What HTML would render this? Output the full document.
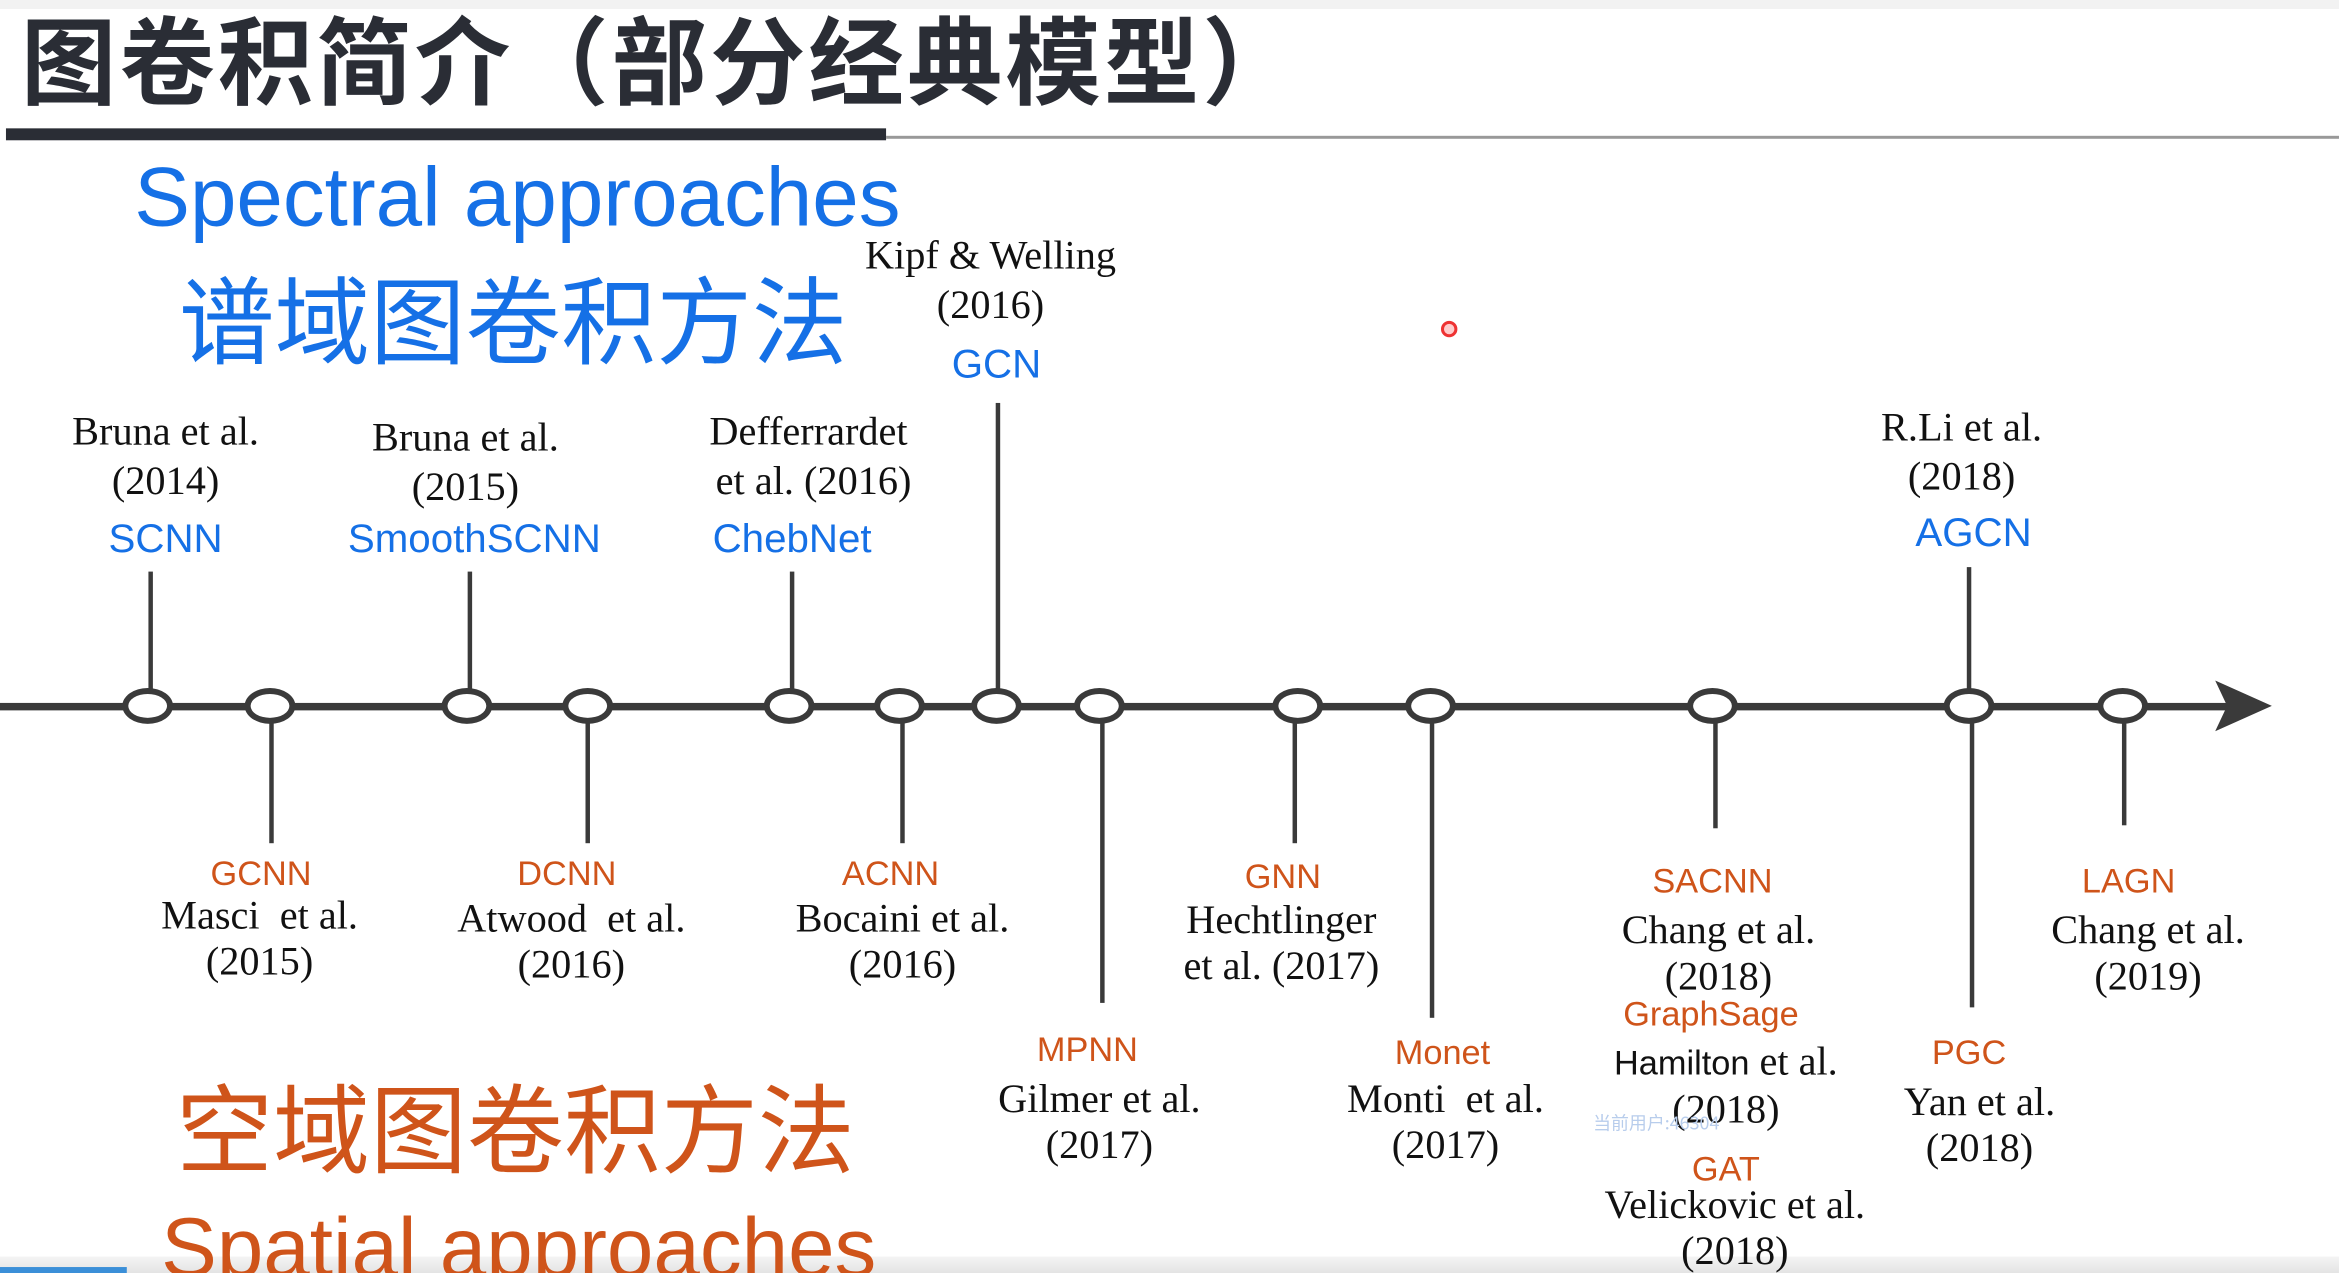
<!DOCTYPE html>
<html><head><meta charset="utf-8"><style>
html,body{margin:0;padding:0;background:#fff;overflow:hidden;width:2339px;height:1273px}
#s{position:absolute;left:0;top:0;width:1568px;height:853px;transform:scale(1.4917,1.4924);transform-origin:0 0;background:#fff;overflow:hidden}
.a{position:absolute;white-space:nowrap}
.c{position:absolute;white-space:nowrap;transform:translateX(-50%);text-align:center}
.sf{font-family:"Liberation Serif",serif;font-size:27px;color:#111;line-height:33px}
.bl{font-family:"Liberation Sans","Noto Sans CJK SC",sans-serif;font-size:27px;color:#1570e6}
.or{font-family:"Liberation Sans","Noto Sans CJK SC",sans-serif;font-size:23px;color:#cf541a}
.node{position:absolute;width:26px;height:16px;border:4px solid #3a3a3a;border-radius:50%;background:#fff;transform:translate(-50%,-50%)}
.v{position:absolute;width:3px;background:#3a3a3a;transform:translateX(-50%)}
</style></head><body><div id="s">
<div class="a" style="left:0;top:0;width:1568px;height:6px;background:#f2f2f2"></div>
<div class="a" style="left:0;top:842px;width:1568px;height:11px;background:linear-gradient(#f4f4f4,#e4e4e4)"></div>
<div class="a" style="left:0;top:849px;width:85px;height:4px;background:#3b8fd8"></div>
<div class="a" style="left:14px;top:-2px;font-family:'Liberation Sans','Noto Sans CJK SC',sans-serif;font-weight:bold;font-size:64px;color:#2a2d35;line-height:90px;letter-spacing:2px">图卷积简介（部分经典模型）</div>
<div class="a" style="left:4px;top:86px;width:590px;height:8px;background:#2a2d35"></div>
<div class="a" style="left:594px;top:91px;width:974px;height:2px;background:#999"></div>
<div class="a" style="left:90px;top:96px;font-family:'Liberation Sans',sans-serif;font-size:56px;color:#1570e6;line-height:72px">Spectral approaches</div>
<div class="a" style="left:120px;top:170px;font-family:'Noto Sans CJK SC',sans-serif;font-size:64px;color:#1570e6;line-height:84px">谱域图卷积方法</div>
<div class="a" style="left:118px;top:710px;font-family:'Noto Sans CJK SC',sans-serif;font-size:65px;color:#cf541a;line-height:86px">空域图卷积方法</div>
<div class="a" style="left:108px;top:800px;font-family:'Liberation Sans',sans-serif;font-size:56px;color:#cf541a;line-height:72px">Spatial approaches</div>
<div class="a" style="left:966px;top:215px;width:7px;height:7px;border-radius:50%;border:2px solid #e33;background:#fcc"></div>

<div class="a" style="left:0;top:471px;width:1500px;height:5px;background:#3a3a3a"></div>
<svg class="a" style="left:1485px;top:456px" width="40" height="36"><polygon points="0,0 38,17 0,34 8,17" fill="#3a3a3a"/></svg>

<div class="v" style="left:101px;top:383px;height:85px"></div>
<div class="v" style="left:315px;top:383px;height:85px"></div>
<div class="v" style="left:531px;top:383px;height:85px"></div>
<div class="v" style="left:669px;top:270px;height:198px"></div>
<div class="v" style="left:1320px;top:380px;height:88px"></div>
<div class="v" style="left:182px;top:478px;height:87px"></div>
<div class="v" style="left:394px;top:478px;height:87px"></div>
<div class="v" style="left:605px;top:478px;height:87px"></div>
<div class="v" style="left:739px;top:478px;height:194px"></div>
<div class="v" style="left:868px;top:478px;height:87px"></div>
<div class="v" style="left:960px;top:478px;height:204px"></div>
<div class="v" style="left:1150px;top:478px;height:77px"></div>
<div class="v" style="left:1322px;top:478px;height:197px"></div>
<div class="v" style="left:1424px;top:478px;height:75px"></div>

<div class="node" style="left:99px;top:473px"></div>
<div class="node" style="left:181px;top:473px"></div>
<div class="node" style="left:313px;top:473px"></div>
<div class="node" style="left:394px;top:473px"></div>
<div class="node" style="left:529px;top:473px"></div>
<div class="node" style="left:603px;top:473px"></div>
<div class="node" style="left:668px;top:473px"></div>
<div class="node" style="left:737px;top:473px"></div>
<div class="node" style="left:870px;top:473px"></div>
<div class="node" style="left:959px;top:473px"></div>
<div class="node" style="left:1148px;top:473px"></div>
<div class="node" style="left:1320px;top:473px"></div>
<div class="node" style="left:1423px;top:473px"></div>

<div class="c sf" style="left:111px;top:273px">Bruna et al.<br>(2014)</div>
<div class="c bl" style="left:111px;top:346px">SCNN</div>
<div class="c sf" style="left:312px;top:277px">Bruna et al.<br>(2015)</div>
<div class="c bl" style="left:318px;top:346px">SmoothSCNN</div>
<div class="c sf" style="left:542px;top:273px">Defferrardet<br>&nbsp;et al. (2016)</div>
<div class="c bl" style="left:531px;top:346px">ChebNet</div>
<div class="c sf" style="left:664px;top:155px">Kipf &amp; Welling<br>(2016)</div>
<div class="c bl" style="left:668px;top:229px">GCN</div>
<div class="c sf" style="left:1315px;top:270px">R.Li et al.<br>(2018)</div>
<div class="c bl" style="left:1323px;top:342px">AGCN</div>

<div class="c or" style="left:175px;top:572px">GCNN</div>
<div class="c sf" style="left:174px;top:598px;line-height:31px">Masci&nbsp; et al.<br>(2015)</div>
<div class="c or" style="left:380px;top:572px">DCNN</div>
<div class="c sf" style="left:383px;top:600px;line-height:31px">Atwood&nbsp; et al.<br>(2016)</div>
<div class="c or" style="left:597px;top:572px">ACNN</div>
<div class="c sf" style="left:605px;top:600px;line-height:31px">Bocaini et al.<br>(2016)</div>
<div class="c or" style="left:860px;top:574px">GNN</div>
<div class="c sf" style="left:859px;top:601px;line-height:31px">Hechtlinger<br>et al. (2017)</div>
<div class="c or" style="left:729px;top:690px">MPNN</div>
<div class="c sf" style="left:737px;top:721px;line-height:31px">Gilmer et al.<br>(2017)</div>
<div class="c or" style="left:967px;top:692px">Monet</div>
<div class="c sf" style="left:969px;top:721px;line-height:31px">Monti&nbsp; et al.<br>(2017)</div>
<div class="c or" style="left:1148px;top:577px">SACNN</div>
<div class="c sf" style="left:1152px;top:608px;line-height:31px">Chang et al.<br>(2018)</div>
<div class="c or" style="left:1147px;top:666px">GraphSage</div>
<div class="c sf" style="left:1157px;top:696px;line-height:31px"><span style="font-family:'Liberation Sans',sans-serif;font-size:23px">Hamilton</span> et al.<br>(2018)</div>
<div class="a" style="left:1068px;top:744px;font-family:'Noto Sans CJK SC',sans-serif;font-size:12px;color:#b8cdec">当前用户:46304</div>
<div class="c or" style="left:1157px;top:770px">GAT</div>
<div class="c sf" style="left:1163px;top:792px;line-height:31px">Velickovic et al.<br>(2018)</div>
<div class="c or" style="left:1320px;top:692px">PGC</div>
<div class="c sf" style="left:1327px;top:723px;line-height:31px">Yan et al.<br>(2018)</div>
<div class="c or" style="left:1427px;top:577px">LAGN</div>
<div class="c sf" style="left:1440px;top:608px;line-height:31px">Chang et al.<br>(2019)</div>
</div></body></html>
